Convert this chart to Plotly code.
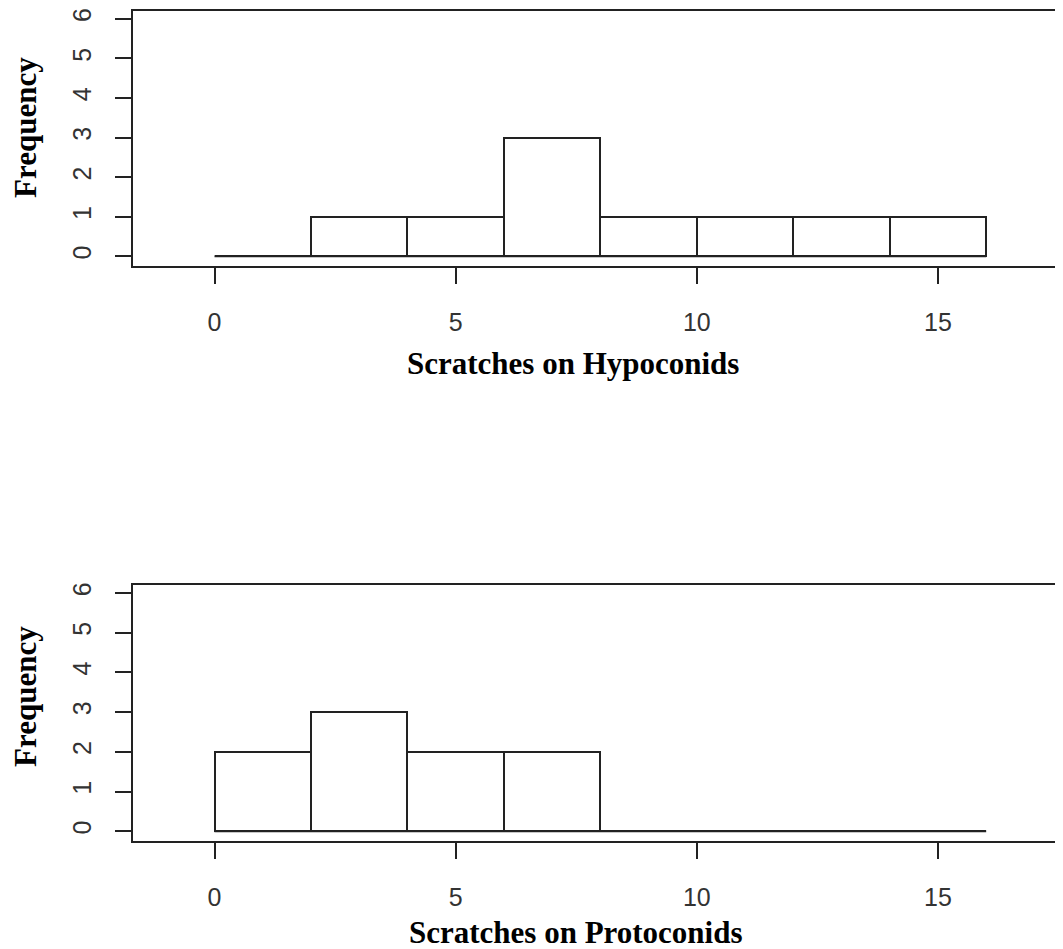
import plotly.graph_objects as go

# ---- data ----
breaks = [0, 2, 4, 6, 8, 10, 12, 14, 16]
hypoconid_counts = [0, 1, 1, 3, 1, 1, 1, 1]
protoconid_counts = [2, 3, 2, 2, 0, 0, 0, 0]
x_ticks = [0, 5, 10, 15]
y_ticks = [0, 1, 2, 3, 4, 5, 6]
x_titles = ["Scratches on Hypoconids", "Scratches on Protoconids"]
y_title = "Frequency"

OFF = 8  # default page body margin
W, H = 1063 - OFF, 949 - OFF
L, R, T, B = 133 - OFF, 0, 11 - OFF, 949 - 841
PH = H - T - B
PW = W - L - R

def py(p):  # screen pixel y -> paper fraction
    return (T + PH - (p - OFF)) / PH

def px(p):
    return ((p - OFF) - L) / PW

centers = [(a + b) / 2 for a, b in zip(breaks[:-1], breaks[1:])]
widths = [b - a for a, b in zip(breaks[:-1], breaks[1:])]

fig = go.Figure()
LINE = "#222222"
for i, counts in enumerate([hypoconid_counts, protoconid_counts]):
    xa = "x" if i == 0 else "x2"
    ya = "y" if i == 0 else "y2"
    fig.add_trace(go.Bar(x=centers, y=counts, width=widths, xaxis=xa, yaxis=ya,
                         marker=dict(color="white", line=dict(color=LINE, width=2)),
                         showlegend=False, hoverinfo="skip"))
    fig.add_trace(go.Scatter(x=[breaks[0], breaks[-1]], y=[0, 0], mode="lines",
                             xaxis=xa, yaxis=ya, line=dict(color=LINE, width=2),
                             showlegend=False, hoverinfo="skip"))

# x: 0 at 214.5px, 48.23px per unit; plot spans 133..1063px on screen
x_lo = (133 - 214.5) / 48.23
x_hi = (1063 - 214.5) / 48.23

tickfont = dict(family="Liberation Sans, Arial, sans-serif", size=25, color="#333333")
xcommon = dict(range=[x_lo, x_hi], tickmode="array", tickvals=x_ticks,
               ticks="outside", ticklen=16, tickwidth=2, tickcolor=LINE,
               showline=True, linecolor=LINE, linewidth=2, mirror=True,
               showgrid=False, zeroline=False, tickfont=tickfont,
               ticklabelstandoff=17, fixedrange=True)
ycommon = dict(range=[-0.245, 6.2], tickmode="array", tickvals=y_ticks,
               ticks="outside", ticklen=16, tickwidth=2, tickcolor=LINE,
               showline=True, linecolor=LINE, linewidth=2, mirror=False,
               showgrid=False, zeroline=False, tickfont=tickfont, tickangle=-90,
               ticklabelstandoff=14, fixedrange=True)

fig.update_layout(
    width=W, height=H,
    margin=dict(l=L, r=R, t=T, b=B),
    paper_bgcolor="white", plot_bgcolor="white",
    xaxis=dict(domain=[0, 1], anchor="y", **xcommon),
    yaxis=dict(domain=[py(266), 1], anchor="x", **ycommon),
    xaxis2=dict(domain=[0, 1], anchor="y2", **xcommon),
    yaxis2=dict(domain=[0, py(585)], anchor="x2", **ycommon),
    bargap=0,
)

titlefont = dict(family="Liberation Serif, Times New Roman, serif", size=31, color="black")
anns = [
    dict(text="<b>%s</b>" % x_titles[0], x=px(573), y=py(363)),
    dict(text="<b>%s</b>" % x_titles[1], x=px(576), y=py(932)),
    dict(text="<b>%s</b>" % y_title, x=px(25), y=py(128), textangle=-90),
    dict(text="<b>%s</b>" % y_title, x=px(25), y=py(697), textangle=-90),
]
for a in anns:
    fig.add_annotation(xref="paper", yref="paper", showarrow=False,
                       xanchor="center", yanchor="middle", font=titlefont, **a)

fig.write_html("out.html")
